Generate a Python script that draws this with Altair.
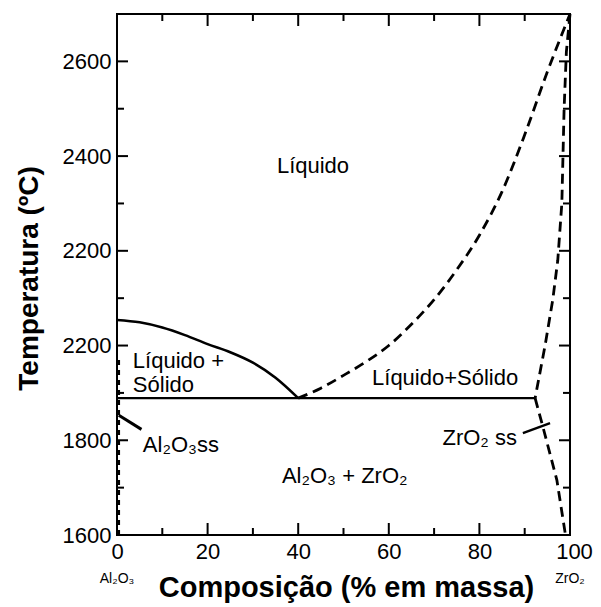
import altair as alt
import pandas as pd

# ---- data ----
# liquidus, Al2O3 side (solid)
liq_al_x = [0, 5, 10, 15, 20, 25, 30, 35, 40]
liq_al_t = [2054, 2049, 2038, 2022, 2003, 1986, 1964, 1932, 1889]
# liquidus, ZrO2 side (dashed)
liq_zr_x = [40, 45, 50, 55, 60, 65, 70, 75, 80, 85, 90, 95, 100]
liq_zr_t = [1889, 1910, 1937, 1966, 2000, 2045, 2097, 2160, 2233, 2325, 2445, 2578, 2700]
# ZrO2 solid solution boundary (dashed), upper and lower branch
zr_up_x = [100, 99.2, 98.7, 98.2, 97.3, 96.2, 94.5, 92.3]
zr_up_t = [2700, 2620, 2500, 2300, 2180, 2097, 2000, 1889]
zr_lo_x = [92.3, 94.0, 97.1, 99.0]
zr_lo_t = [1889, 1829, 1716, 1600]
# Al2O3 solid solution boundary (dashed, along the left axis)
al_ss_x = [0.4, 0.4]
al_ss_t = [1600, 1980]
# eutectic isotherm (solid)
eut_x = [0, 92.3]
eut_t = [1889, 1889]
# leader lines
lead_al_x = [5.4, 0.4]
lead_al_t = [1823, 1853]
lead_zr_x = [89.6, 95.6]
lead_zr_t = [1815, 1836]

# region labels
lab_text = ["Líquido", "Líquido +", "Sólido", "Líquido+Sólido", "Al₂O₃ss", "Al₂O₃ + ZrO₂"]
lab_x = [35.3, 3.5, 3.5, 56.3, 5.7, 36.4]
lab_t = [2364, 1953, 1902, 1917, 1775, 1710]
zr_lab_text = ["ZrO₂ ss"]
zr_lab_x = [88.3]
zr_lab_t = [1790]

# axis ticks
x_ticks = [0, 20, 40, 60, 80, 100]
x_major_inner = [20, 40, 60, 80]
x_minor = [10, 30, 50, 70, 90]
y_ticks = [1600, 1800, 2000, 2200, 2400, 2600]
y_major_inner = [1800, 2000, 2200, 2400, 2600]
y_minor = [1700, 1900, 2100, 2300, 2500]

end_labels = ["Al₂O₃", "ZrO₂"]
end_x = [0, 100]

W, H = 453, 521
FONT = "Liberation Sans"

xs = alt.Scale(domain=[0, 100], nice=False, zero=False)
ys = alt.Scale(domain=[1600, 2700], nice=False, zero=False)

x_axis = alt.Axis(
    values=x_ticks, title="Composição (% em massa)", grid=False, domain=False,
    ticks=False, tickSize=0, labelFontSize=22, labelFont=FONT, labelColor="black",
    labelPadding=6, labelFlush=False, format="d",
    labelOffset={"condition": {"test": "datum.value == 100", "value": 4}, "value": 0},
    titleFont=FONT, titleFontSize=29, titleFontWeight="bold", titleColor="black",
    titleX=229, titleY=61, titleBaseline="alphabetic", titleAlign="center",
)
y_axis = alt.Axis(
    values=y_ticks, title="Temperatura (ºC)", grid=False, domain=False,
    ticks=False, tickSize=0, labelFontSize=22, labelFont=FONT, labelColor="black",
    labelPadding=6, labelFlush=False, format="d",
    labelExpr="datum.value == 2000 ? '2200' : datum.label",
    titleFont=FONT, titleFontSize=28, titleFontWeight="bold", titleColor="black",
    titleX=-80, titleY=264, titleAngle=270, titleBaseline="alphabetic", titleAlign="center",
)


def X(field):
    return alt.X(field, type="quantitative", scale=xs, axis=x_axis)


def Y(field):
    return alt.Y(field, type="quantitative", scale=ys, axis=y_axis)


def path(xv, tv, dash=None, width=2.6, interp="linear"):
    df = pd.DataFrame({"x": xv, "t": tv, "i": list(range(len(xv)))})
    kw = dict(color="black", strokeWidth=width, strokeCap="butt", interpolate=interp)
    if dash:
        kw["strokeDash"] = dash
    return alt.Chart(df).mark_line(**kw).encode(x=X("x"), y=Y("t"), order=alt.Order("i:Q"))


layers = []
layers.append(path(liq_al_x, liq_al_t, width=2.6, interp="monotone"))
layers.append(path(liq_zr_x, liq_zr_t, dash=[10, 6], width=2.8, interp="monotone"))
layers.append(path(zr_up_x, zr_up_t, dash=[10, 6], width=2.8))
layers.append(path(zr_lo_x, zr_lo_t, dash=[10, 6], width=2.8))
layers.append(path(al_ss_x, al_ss_t, dash=[5, 5], width=2.5))
layers.append(path(eut_x, eut_t, width=2.4))
layers.append(path(lead_al_x, lead_al_t, width=3))
layers.append(path(lead_zr_x, lead_zr_t, width=2.4))


# ticks (inward on all four sides)
def xticks(vals, length):
    df = pd.DataFrame({"v": vals})
    b = alt.Chart(df).mark_rule(color="black", strokeWidth=2).encode(
        x=X("v"), y=alt.value(H), y2=alt.value(H - length))
    t = alt.Chart(df).mark_rule(color="black", strokeWidth=2).encode(
        x=X("v"), y=alt.value(0), y2=alt.value(length))
    return [b, t]


def yticks(vals, length):
    df = pd.DataFrame({"v": vals})
    l = alt.Chart(df).mark_rule(color="black", strokeWidth=2).encode(
        y=Y("v"), x=alt.value(0), x2=alt.value(length))
    r = alt.Chart(df).mark_rule(color="black", strokeWidth=2).encode(
        y=Y("v"), x=alt.value(W), x2=alt.value(W - length))
    return [l, r]


layers += xticks(x_major_inner, 12) + xticks(x_minor, 7)
layers += yticks(y_major_inner, 11) + yticks(y_minor, 7)

lab_df = pd.DataFrame({"text": lab_text, "x": lab_x, "t": lab_t})
layers.append(
    alt.Chart(lab_df).mark_text(font=FONT, fontSize=22, align="left", baseline="alphabetic",
                                color="black").encode(x=X("x"), y=Y("t"), text="text:N"))
zr_df = pd.DataFrame({"text": zr_lab_text, "x": zr_lab_x, "t": zr_lab_t})
layers.append(
    alt.Chart(zr_df).mark_text(font=FONT, fontSize=22, align="right", baseline="alphabetic",
                               color="black").encode(x=X("x"), y=Y("t"), text="text:N"))
end_df = pd.DataFrame({"text": end_labels, "x": end_x})
layers.append(
    alt.Chart(end_df).mark_text(font=FONT, fontSize=14, align="center", baseline="alphabetic",
                                color="black").encode(x=X("x"), y=alt.value(569), text="text:N"))

chart = alt.layer(*layers).properties(
    width=W, height=H,
    autosize=alt.AutoSizeParams(type="none"),
    padding={"left": 109, "top": 6, "right": 23, "bottom": 72},
    background="white",
).configure_view(stroke="black", strokeWidth=2)

chart.save("out.html", embed_options={"renderer": "svg", "actions": False})
